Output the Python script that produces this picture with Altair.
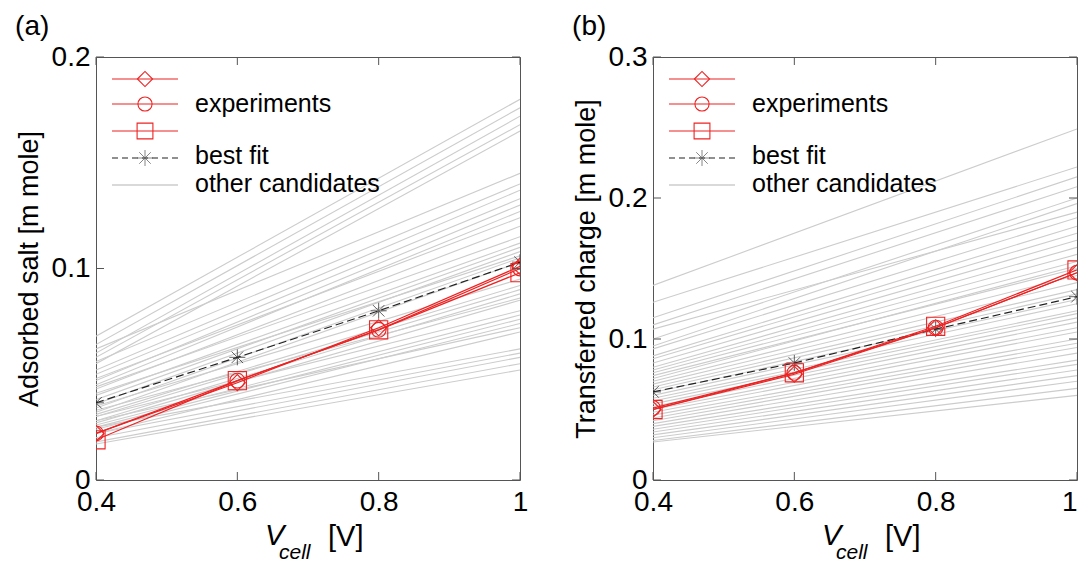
import altair as alt
import pandas as pd

# ---------------- data ----------------
x_vals = [0.4, 0.6, 0.8, 1.0]

# panel (a): adsorbed salt [m mole]
exp_a_diamond = [0.022, 0.046, 0.072, 0.101]
exp_a_circle = [0.022, 0.047, 0.071, 0.100]
exp_a_square = [0.019, 0.047, 0.071, 0.098]
fit_a = [0.0365, 0.058, 0.080, 0.103]
cand_a_start = [0.068, 0.064, 0.060, 0.058, 0.055, 0.062, 0.056, 0.052, 0.050, 0.047,
                0.045, 0.048, 0.043, 0.044, 0.040, 0.038, 0.036, 0.034, 0.041, 0.032,
                0.035, 0.031, 0.030, 0.028, 0.033, 0.027, 0.030, 0.026, 0.025, 0.024,
                0.028, 0.022, 0.025, 0.022, 0.020, 0.018, 0.017]
cand_a_end = [0.180, 0.176, 0.172, 0.168, 0.165, 0.145, 0.140, 0.137, 0.133, 0.130,
              0.127, 0.124, 0.120, 0.115, 0.112, 0.110, 0.108, 0.105, 0.106, 0.103,
              0.095, 0.092, 0.090, 0.088, 0.086, 0.085, 0.080, 0.078, 0.076, 0.074,
              0.072, 0.070, 0.062, 0.060, 0.058, 0.055, 0.052]

# panel (b): transferred charge [m mole]
exp_b_diamond = [0.050, 0.075, 0.108, 0.147]
exp_b_circle = [0.051, 0.076, 0.108, 0.147]
exp_b_square = [0.050, 0.076, 0.109, 0.149]
fit_b = [0.0625, 0.083, 0.107, 0.130]
cand_b_start = [0.138, 0.126, 0.115, 0.110, 0.100, 0.107, 0.095, 0.093, 0.088, 0.086,
                0.083, 0.080, 0.078, 0.076, 0.074, 0.072, 0.070, 0.068, 0.066, 0.064,
                0.062, 0.060, 0.058, 0.056, 0.054, 0.052, 0.050, 0.048, 0.046, 0.044,
                0.042, 0.040, 0.038, 0.036, 0.034, 0.032, 0.030, 0.028, 0.027]
cand_b_end = [0.249, 0.222, 0.215, 0.208, 0.200, 0.190, 0.196, 0.186, 0.180, 0.175,
              0.170, 0.165, 0.160, 0.155, 0.150, 0.152, 0.145, 0.140, 0.135, 0.132,
              0.128, 0.125, 0.120, 0.118, 0.115, 0.112, 0.108, 0.105, 0.100, 0.097,
              0.094, 0.090, 0.085, 0.082, 0.078, 0.074, 0.070, 0.065, 0.060]

x_ticks = [0.4, 0.6, 0.8, 1.0]
y_ticks_a = [0, 0.1, 0.2]
y_ticks_b = [0, 0.1, 0.2, 0.3]

# ---------------- style ----------------
FONT = "Liberation Sans"
RED = "#ee2222"
GREY = "#cccccc"
DARK = "#222222"
W, H = 424, 423
ASTERISK = "M-1,0L1,0M0,-1L0,1M-0.72,-0.72L0.72,0.72M-0.72,0.72L0.72,-0.72"
one = pd.DataFrame({"k": [0]})


def make_panel(letter, ytitle, ymax, yticks, exps, fit, cstart, cend, last_right=False):
    xs = alt.Scale(domain=[0.4, 1.0], nice=False, zero=False)
    ys = alt.Scale(domain=[0, ymax], nice=False, zero=False)
    xkw = dict(values=x_ticks, format="~g", title=None, labelPadding=8, labelFlush=False)
    if last_right:
        xkw["labelAlign"] = {"condition": {"test": "datum.value == 1", "value": "right"},
                             "value": "center"}
    xaxis = alt.Axis(**xkw)
    yaxis = alt.Axis(values=yticks, format="~g", title=ytitle, labelPadding=6,
                     titlePadding=8)

    def X(f):
        return alt.X(f"{f}:Q", scale=xs, axis=xaxis)

    def Y(f):
        return alt.Y(f"{f}:Q", scale=ys, axis=yaxis)

    # candidates
    rows = []
    for i, (s, e) in enumerate(zip(cstart, cend)):
        rows.append({"id": i, "v": 0.4, "y": s})
        rows.append({"id": i, "v": 1.0, "y": e})
    cand = alt.Chart(pd.DataFrame(rows)).mark_line(color=GREY, strokeWidth=1.1, clip=True).encode(
        x=X("v"), y=Y("y"), detail="id:N")

    fitdf = pd.DataFrame({"v": x_vals, "y": fit})
    fit_line = alt.Chart(fitdf).mark_line(color=DARK, strokeWidth=1.2, clip=True,
                                          strokeDash=[8, 4]).encode(x=X("v"), y=Y("y"))
    fit_pts = alt.Chart(fitdf).mark_point(shape=ASTERISK, size=256, filled=False, clip=True,
                                          color=DARK, strokeWidth=1).encode(x=X("v"), y=Y("y"))

    layers = [cand, fit_line, fit_pts]
    for vals, shape, size in zip(exps, ["diamond", "circle", "square"], [260, 220, 330]):
        df = pd.DataFrame({"v": x_vals, "y": vals})
        layers.append(alt.Chart(df).mark_line(color=RED, strokeWidth=1.2, clip=True).encode(
            x=X("v"), y=Y("y")))
        layers.append(alt.Chart(df).mark_point(shape=shape, size=size, filled=False, clip=True,
                                               color=RED, strokeWidth=1.1, opacity=1).encode(
            x=X("v"), y=Y("y")))

    # inward ticks
    xt = pd.DataFrame({"v": x_ticks})
    yt = pd.DataFrame({"y": yticks})
    tk = dict(color="#555555", strokeWidth=1)
    layers.append(alt.Chart(xt).mark_rule(**tk).encode(x=X("v"), y=alt.value(H), y2=alt.value(H - 8)))
    layers.append(alt.Chart(xt).mark_rule(**tk).encode(x=X("v"), y=alt.value(0), y2=alt.value(8)))
    layers.append(alt.Chart(yt).mark_rule(**tk).encode(y=Y("y"), x=alt.value(0), x2=alt.value(8)))
    layers.append(alt.Chart(yt).mark_rule(**tk).encode(y=Y("y"), x=alt.value(W - 8), x2=alt.value(W)))

    # legend
    lx1, lx2, mx, tx = 16, 82, 49, 99
    for yy, shape, size in [(22, "diamond", 230), (47, "circle", 200), (74, "square", 250)]:
        layers.append(alt.Chart(one).mark_rule(color=RED, strokeWidth=1.2).encode(
            x=alt.value(lx1), x2=alt.value(lx2), y=alt.value(yy)))
        layers.append(alt.Chart(one).mark_point(shape=shape, size=size, filled=False,
                                                color=RED, strokeWidth=1.1, opacity=1).encode(
            x=alt.value(mx), y=alt.value(yy)))
    layers.append(alt.Chart(one).mark_rule(color=DARK, strokeWidth=1.2, strokeDash=[6, 4]).encode(
        x=alt.value(lx1), x2=alt.value(lx2), y=alt.value(101)))
    layers.append(alt.Chart(one).mark_point(shape=ASTERISK, size=256, filled=False,
                                            color="#555555", strokeWidth=1).encode(
        x=alt.value(mx), y=alt.value(101)))
    layers.append(alt.Chart(one).mark_rule(color=GREY, strokeWidth=1.4).encode(
        x=alt.value(lx1), x2=alt.value(lx2), y=alt.value(128)))
    txt = dict(align="left", baseline="middle", font=FONT, fontSize=25, color="black")
    for yy, label in [(47, "experiments"), (99, "best fit"), (127, "other candidates")]:
        layers.append(alt.Chart(one).mark_text(text=label, **txt).encode(
            x=alt.value(tx), y=alt.value(yy)))

    # x-axis title: V_cell [V]
    layers.append(alt.Chart(one).mark_text(text="V", align="left", baseline="alphabetic",
                                           font=FONT, fontSize=29, fontStyle="italic",
                                           color="black").encode(x=alt.value(169), y=alt.value(488)))
    layers.append(alt.Chart(one).mark_text(text="cell", align="left", baseline="alphabetic",
                                           font=FONT, fontSize=21, fontStyle="italic",
                                           color="black").encode(x=alt.value(183), y=alt.value(502)))
    layers.append(alt.Chart(one).mark_text(text="[V]", align="left", baseline="alphabetic",
                                           font=FONT, fontSize=29,
                                           color="black").encode(x=alt.value(232), y=alt.value(489)))

    return alt.layer(*layers).properties(
        width=W, height=H,
        title=alt.TitleParams(letter, anchor="start", frame="bounds", fontSize=28, font=FONT,
                              fontWeight="normal", color="black", offset=2))


pa = make_panel("(a)", "Adsorbed salt [m mole]", 0.2, y_ticks_a,
                [exp_a_diamond, exp_a_circle, exp_a_square], fit_a, cand_a_start, cand_a_end)
pb = make_panel("(b)", "Transferred charge [m mole]", 0.3, y_ticks_b,
                [exp_b_diamond, exp_b_circle, exp_b_square], fit_b, cand_b_start, cand_b_end,
                last_right=True)

chart = alt.hconcat(pa, pb, spacing=42).configure_view(
    stroke="#555555", strokeWidth=1
).configure_axis(
    grid=False, ticks=False, domain=False,
    labelFont=FONT, labelFontSize=28, labelColor="black",
    titleFont=FONT, titleFontSize=27, titleColor="black", titleFontWeight="normal",
).properties(padding={"left": 6, "top": 4, "right": 0, "bottom": 0})

chart.save("out.html", embed_options={"renderer": "svg", "actions": False})
